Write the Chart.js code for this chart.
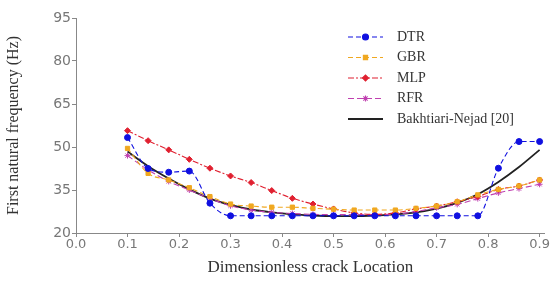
<!DOCTYPE html>
<html>
<head>
<meta charset="utf-8">
<script src="https://cdn.jsdelivr.net/npm/chart.js@4/dist/chart.umd.min.js"></script>
<style>
  html, body { margin: 0; padding: 0; background: #fff; }
  #wrap { width: 550px; height: 282px; }
</style>
</head>
<body>
<div id="wrap"><canvas id="freq-chart" width="550" height="282"></canvas></div>
<script>
const CRACK_LOCATIONS = [0.10, 0.14, 0.18, 0.22, 0.26, 0.30, 0.34, 0.38, 0.42, 0.46, 0.50, 0.54, 0.58, 0.62, 0.66, 0.70, 0.74, 0.78, 0.82, 0.86, 0.90];
const DTR_VALUES = [53.3, 42.5, 41.2, 41.6, 30.4, 26.0, 26.0, 26.0, 26.0, 26.0, 26.0, 26.0, 26.0, 26.0, 26.0, 26.0, 26.0, 26.0, 42.6, 51.9, 51.9];
const GBR_VALUES = [49.5, 40.8, 38.5, 35.8, 32.7, 30.1, 29.4, 29.0, 29.0, 28.6, 28.3, 28.0, 28.0, 28.0, 28.6, 29.4, 30.9, 33.3, 35.2, 36.4, 38.5];
const MLP_VALUES = [55.7, 52.2, 49.0, 45.7, 42.6, 39.9, 37.6, 34.8, 32.1, 30.1, 28.4, 27.0, 26.5, 27.0, 28.4, 29.4, 30.9, 32.7, 35.2, 36.4, 38.5];
const RFR_VALUES = [47.0, 42.0, 38.0, 35.0, 32.0, 29.5, 28.0, 27.2, 26.8, 26.5, 26.4, 26.4, 26.4, 26.6, 27.5, 28.8, 30.0, 32.0, 34.0, 35.5, 37.0];
const BN_VALUES = [48.4, 43.3, 39.0, 35.2, 32.0, 29.8, 28.2, 27.2, 26.5, 26.1, 25.9, 25.9, 26.1, 26.5, 27.2, 28.5, 30.5, 33.5, 37.8, 43.0, 49.0];
const X_TICKS = [0.0, 0.1, 0.2, 0.3, 0.4, 0.5, 0.6, 0.7, 0.8, 0.9];
const Y_TICKS = [20, 35, 50, 65, 80, 95];

const SERIF = "'Liberation Serif', 'DejaVu Serif', serif";

function toPoints(values) {
  return values.map((v, i) => ({ x: CRACK_LOCATIONS[i], y: v }));
}

const seriesDefs = [
  { label: 'DTR', data: DTR_VALUES, color: '#1010e0', dash: [5, 3], point: 'circle', radius: 3, width: 1.1 },
  { label: 'GBR', data: GBR_VALUES, color: '#f0a820', dash: [5, 3], point: 'rect', radius: 3, width: 1.1 },
  { label: 'MLP', data: MLP_VALUES, color: '#e02030', dash: [6, 2, 2, 2], point: 'rectRot', radius: 3, width: 1.1 },
  { label: 'RFR', data: RFR_VALUES, color: '#c040b0', dash: [6, 3], point: 'star', radius: 3, width: 1.1 },
  { label: 'Bakhtiari-Nejad [20]', data: BN_VALUES, color: '#222222', dash: [], point: 'circle', radius: 0, width: 1.8 }
];

const datasets = seriesDefs.map(s => ({
  label: s.label,
  data: toPoints(s.data),
  borderColor: s.color,
  backgroundColor: s.color,
  borderWidth: s.width,
  borderDash: s.dash,
  pointStyle: s.point,
  pointRadius: s.radius,
  pointBorderWidth: 1,
  tension: 0.4,
  cubicInterpolationMode: 'monotone',
  fill: false
}));

// legend drawn inside the plot, top right
const insideLegend = {
  id: 'insideLegend',
  afterDraw(chart) {
    const ctx = chart.ctx;
    const x0 = 348, x1 = 383, tx = 397;
    let y = 37;
    ctx.save();
    seriesDefs.forEach((s) => {
      ctx.strokeStyle = s.color;
      ctx.lineWidth = s.width;
      ctx.setLineDash(s.dash);
      ctx.beginPath();
      ctx.moveTo(x0, y);
      ctx.lineTo(x1, y);
      ctx.stroke();
      ctx.setLineDash([]);
      if (s.radius > 0) {
        ctx.fillStyle = s.color;
        Chart.helpers.drawPoint(ctx, { pointStyle: s.point, radius: s.radius, borderWidth: 1 }, (x0 + x1) / 2, y);
      }
      ctx.fillStyle = '#333';
      ctx.font = '14px ' + SERIF;
      ctx.textBaseline = 'middle';
      ctx.fillText(s.label, tx, y);
      y += 20.5;
    });
    ctx.restore();
  }
};

const config = {
  type: 'line',
  data: { datasets: datasets },
  plugins: [insideLegend],
  options: {
    responsive: false,
    animation: false,
    layout: { padding: { top: 18, right: 5, left: 0, bottom: 0 } },
    plugins: {
      legend: { display: false },
      tooltip: { enabled: false }
    },
    scales: {
      x: {
        type: 'linear',
        min: 0,
        max: 0.91,
        afterBuildTicks: (scale) => { scale.ticks = X_TICKS.map(v => ({ value: v })); },
        afterFit: (scale) => { scale.height = 49; },
        border: { color: '#888', width: 1 },
        grid: { display: true, drawOnChartArea: false, tickLength: 4, color: '#888' },
        ticks: {
          color: '#777',
          font: { size: 13, family: "'DejaVu Sans', sans-serif" },
          padding: 0,
          maxRotation: 0,
          callback: (v) => Number(v).toFixed(1)
        },
        title: {
          display: true,
          text: 'Dimensionless crack Location',
          color: '#333',
          font: { size: 17, family: SERIF },
          padding: { top: 6 }
        }
      },
      y: {
        min: 20,
        max: 95,
        afterBuildTicks: (scale) => { scale.ticks = Y_TICKS.map(v => ({ value: v })); },
        afterFit: (scale) => { scale.width = 76; },
        border: { color: '#888', width: 1 },
        grid: { display: true, drawOnChartArea: false, tickLength: 4, color: '#888' },
        ticks: {
          color: '#777',
          font: { size: 14, family: "'DejaVu Sans', sans-serif" },
          padding: 1
        },
        title: {
          display: true,
          text: 'First natural frequency (Hz)',
          color: '#333',
          font: { size: 16, family: SERIF },
          padding: { bottom: 4 }
        }
      }
    }
  }
};

const freqChart = new Chart(document.getElementById('freq-chart'), config);
</script>
</body>
</html>
